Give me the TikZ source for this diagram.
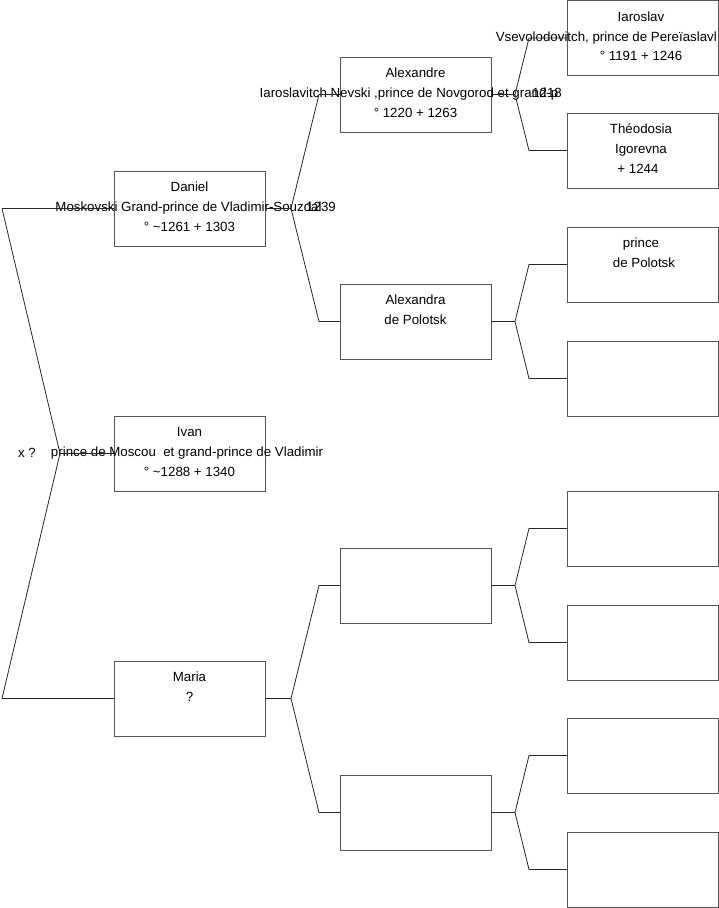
\documentclass[tikz,border=0pt]{standalone}
\usepackage{fontspec}
\setmainfont{Liberation Sans}
\definecolor{boxline}{HTML}{555555}
\tikzset{
 person/.style={draw=boxline, line width=1pt, minimum width=151pt, minimum height=75pt, inner sep=0pt, outer sep=0pt, anchor=north west, fill=white},
 lbl/.style={font=\fontsize{13.3}{15}\selectfont, inner sep=0pt, anchor=base},
 lble/.style={lbl, anchor=base east},
 link/.style={draw=black!85, line width=0.8pt},
}
\begin{document}
\begin{tikzpicture}[x=1pt,y=-1pt]
\useasboundingbox (0,0) rectangle (719,908);
\fill[white] (0,0) rectangle (719,908);
% boxes
\node[person] (daniel) at (114,171) {};
\node[person] (ivan) at (114,416) {};
\node[person] (maria) at (114,661) {};
\node[person] (alexandre) at (340,57) {};
\node[person] (alexandra) at (340,284) {};
\node[person] (m3) at (340,548) {};
\node[person] (m4) at (340,775) {};
\node[person] (iaroslav) at (567,0.5) {};
\node[person] (theodosia) at (567,113) {};
\node[person] (polotsk) at (567,227) {};
\node[person] (r4) at (567,341) {};
\node[person] (r5) at (567,491) {};
\node[person] (r6) at (567,605) {};
\node[person] (r7) at (567,718) {};
\node[person] (r8) at (567,832) {};
% texts
\node[lbl] (t1) at (189.5,191.5) {Daniel};
\node[lbl] (t2) at (188.5,211.5) {Moskovski Grand-prince de Vladimir-Souzdal};
\node[lbl] (t3) at (189.5,231) {° \textasciitilde1261 + 1303};
\node[lble] (t4) at (336,211.5) {1239};
\node[lbl] (t5) at (189.5,436.5) {Ivan};
\node[lbl] (t6) at (187,456.5) {prince de Moscou~ et grand-prince de Vladimir};
\node[lbl] (t7) at (189.5,476) {° \textasciitilde1288 + 1340};
\node[lbl] (t8) at (27,457) {x ?};
\node[lbl] (t9) at (189.5,681.5) {Maria};
\node[lbl] (t10) at (189.5,701.5) {?};
\node[lbl] (t11) at (415.5,77.5) {Alexandre};
\node[lbl] (t12) at (409,97.5) {Iaroslavitch Nevski ,prince de Novgorod et grand-p};
\node[lbl] (t13) at (415.5,117) {° 1220 + 1263};
\node[lble] (t14) at (562,97.5) {1218};
\node[lbl] (t15) at (415.5,304.5) {Alexandra};
\node[lbl] (t16) at (415.5,324.5) {de Polotsk};
\node[lbl] (t17) at (641,21) {Iaroslav};
\node[lble] (t18) at (717,41) {Vsevolodovitch, prince de Pereïaslavl};
\node[lbl] (t19) at (641,60.5) {° 1191 + 1246};
\node[lbl] (t20) at (641,133.5) {Théodosia};
\node[lbl] (t21) at (641,153.5) {Igorevna};
\node[lbl] (t22) at (638,173) {+ 1244};
\node[lbl] (t23) at (641,247.5) {prince};
\node[lbl] (t24) at (644,267.5) {de Polotsk};
% junctions
\coordinate (jL1) at (2,208.5);
\coordinate (jL2) at (60,453.5);
\coordinate (jL3) at (2,698.5);
\coordinate (jD) at (291,208.5);
\coordinate (jDa) at (319,94.5);
\coordinate (jDb) at (319,321.5);
\coordinate (jM) at (291,698.5);
\coordinate (jMa) at (319,585.5);
\coordinate (jMb) at (319,812.5);
\coordinate (jA) at (515,94.5);
\coordinate (jAa) at (529,38);
\coordinate (jAb) at (529,150.5);
\coordinate (jX) at (515,321.5);
\coordinate (jXa) at (529,264.5);
\coordinate (jXb) at (529,378.5);
\coordinate (j3) at (515,585.5);
\coordinate (j3a) at (529,528.5);
\coordinate (j3b) at (529,642.5);
\coordinate (j4) at (515,812.5);
\coordinate (j4a) at (529,755.5);
\coordinate (j4b) at (529,869.5);
% links
\draw[link] (jL1) -- (daniel.west);
\draw[link] (jL1) -- (jL2) -- (ivan.west);
\draw[link] (jL2) -- (jL3) -- (maria.west);
\draw[link] (daniel.east) -- (jD);
\draw[link] (jD) -- (jDa) -- (alexandre.west);
\draw[link] (jD) -- (jDb) -- (alexandra.west);
\draw[link] (maria.east) -- (jM);
\draw[link] (jM) -- (jMa) -- (m3.west);
\draw[link] (jM) -- (jMb) -- (m4.west);
\draw[link] (alexandre.east) -- (jA);
\draw[link] (jA) -- (jAa) -- (iaroslav.west);
\draw[link] (jA) -- (jAb) -- (theodosia.west);
\draw[link] (alexandra.east) -- (jX);
\draw[link] (jX) -- (jXa) -- (polotsk.west);
\draw[link] (jX) -- (jXb) -- (r4.west);
\draw[link] (m3.east) -- (j3);
\draw[link] (j3) -- (j3a) -- (r5.west);
\draw[link] (j3) -- (j3b) -- (r6.west);
\draw[link] (m4.east) -- (j4);
\draw[link] (j4) -- (j4a) -- (r7.west);
\draw[link] (j4) -- (j4b) -- (r8.west);
\end{tikzpicture}
\end{document}
